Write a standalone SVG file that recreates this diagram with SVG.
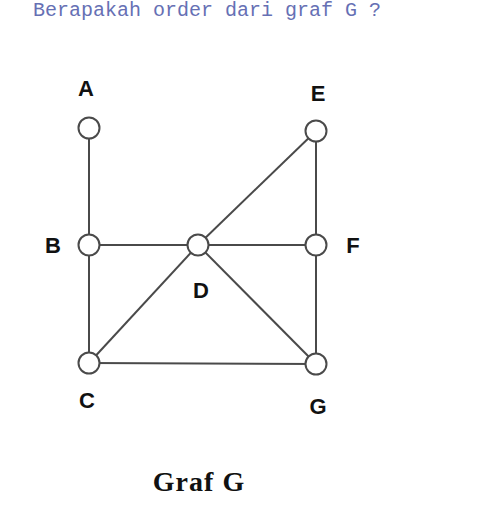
<svg xmlns="http://www.w3.org/2000/svg" width="496" height="516" viewBox="0 0 496 516">
<style>
.e{stroke:#4a4a4a;stroke-width:2;fill:none}
.n{fill:#fff;stroke:#4a4a4a;stroke-width:2}
.l{font-family:"Liberation Sans",Arial,sans-serif;font-weight:bold;font-size:22px;fill:#111;text-anchor:middle}
</style>
<rect width="496" height="516" fill="#fff"/>
<text x="33" y="16" font-family="Liberation Mono,monospace" font-size="20" fill="#6670b4">Berapakah order dari graf G ?</text>
<g id="connectors">
<line class="e" x1="89" y1="128" x2="89" y2="245"/>
<line class="e" x1="89" y1="245" x2="89" y2="363"/>
<line class="e" x1="89" y1="245" x2="198" y2="245"/>
<line class="e" x1="198" y1="245" x2="316" y2="245"/>
<line class="e" x1="316" y1="131" x2="316" y2="245"/>
<line class="e" x1="316" y1="245" x2="316" y2="364"/>
<line class="e" x1="316" y1="131" x2="198" y2="245"/>
<line class="e" x1="198" y1="245" x2="89" y2="363"/>
<line class="e" x1="198" y1="245" x2="316" y2="364"/>
<line class="e" x1="89" y1="363" x2="316" y2="364"/>
</g>
<g id="A"><circle class="n" cx="89" cy="128" r="10.5"/><text class="l" x="86" y="96">A</text></g>
<g id="B"><circle class="n" cx="89" cy="245" r="10.5"/><text class="l" x="53" y="253">B</text></g>
<g id="C"><circle class="n" cx="89" cy="363" r="10.5"/><text class="l" x="87" y="408">C</text></g>
<g id="D"><circle class="n" cx="198" cy="245" r="10.5"/><text class="l" x="201" y="298">D</text></g>
<g id="E"><circle class="n" cx="316" cy="131" r="10.5"/><text class="l" x="318" y="101">E</text></g>
<g id="F"><circle class="n" cx="316" cy="245" r="10.5"/><text class="l" x="353" y="253">F</text></g>
<g id="G"><circle class="n" cx="316" cy="364" r="10.5"/><text class="l" x="318" y="414">G</text></g>
<text x="199" y="491" font-family="Liberation Serif,'Times New Roman',serif" font-weight="bold" font-size="28" letter-spacing="1" text-anchor="middle" fill="#111">Graf G</text>
</svg>
